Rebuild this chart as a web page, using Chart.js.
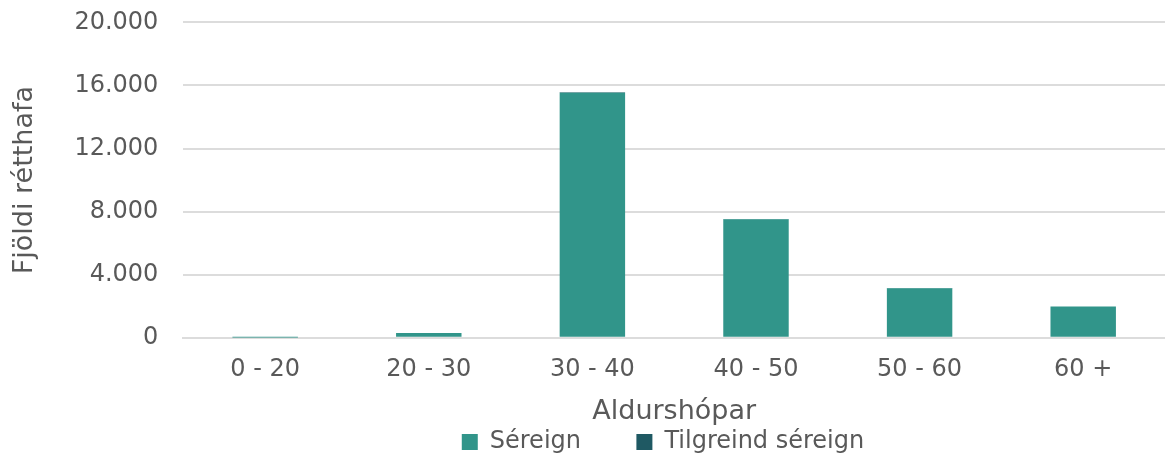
<!DOCTYPE html>
<html>
<head>
    <meta charset="UTF-8">
    <title>Aldurshópar</title>
    <style>
        html, body { margin: 0; padding: 0; background: #fff; }
        #wrap { width: 1165px; height: 459px; }
    </style>
    <script src="https://cdnjs.cloudflare.com/ajax/libs/Chart.js/4.4.1/chart.umd.min.js"></script>
</head>
<body>
    <div id="wrap"><canvas id="chart"></canvas></div>

    <script>
        const categories = ["0 - 20", "20 - 30", "30 - 40", "40 - 50", "50 - 60", "60 +"];
        const sereign = [10, 300, 15540, 7510, 3140, 1980];
        const tilgreindSereign = [0, 5, 30, 20, 25, 10];

        const textColor = "#595959";
        Chart.defaults.font.family = "'DejaVu Sans', Verdana, sans-serif";
        Chart.defaults.color = textColor;

        const fmt = v => v.toLocaleString("de-DE");

        // the legend sits a bit right of the canvas centre, under the plot
        const legendShift = {
            id: "legendShift",
            afterLayout(chart) {
                chart.legend.left += 78;
                chart.legend.right += 78;
            },
        };

        new Chart(document.getElementById("chart").getContext("2d"), {
            type: "bar",
            data: {
                labels: categories,
                datasets: [
                    { label: "Séreign", data: sereign, backgroundColor: "#31958A", barPercentage: 0.8, categoryPercentage: 0.5 },
                    { label: "Tilgreind séreign", data: tilgreindSereign, backgroundColor: "#1F5963", barPercentage: 0.8, categoryPercentage: 0.5 },
                ],
            },
            options: {
                responsive: true,
                maintainAspectRatio: false,
                animation: false,
                layout: { padding: { top: 0, right: 0, left: 5, bottom: -5 } },
                plugins: {
                    tooltip: { enabled: false },
                    legend: {
                        position: "bottom",
                        labels: {
                            font: { size: 24 }, boxWidth: 16, boxHeight: 16, padding: 2, color: textColor,
                            generateLabels(chart) {
                                const items = Chart.defaults.plugins.legend.labels.generateLabels(chart);
                                items[0].text += "       ";
                                return items;
                            },
                        },
                    },
                },
                scales: {
                    x: {
                        stacked: true,
                        grid: { display: false, drawTicks: false },
                        border: { color: "#dcdcdc", width: 2 },
                        ticks: { font: { size: 24 }, padding: 18 },
                        title: { display: true, text: "Aldurshópar", font: { size: 27 }, padding: { top: -7, bottom: 0 } },
                    },
                    y: {
                        stacked: true,
                        min: 0,
                        max: 20000,
                        border: { display: false },
                        grid: { color: "#dcdcdc", lineWidth: 2, drawTicks: true, tickLength: 17, tickColor: "rgba(0,0,0,0)" },
                        ticks: { stepSize: 4000, font: { size: 24 }, padding: 8, callback: v => fmt(v) },
                        title: { display: true, text: "Fjöldi rétthafa", font: { size: 27 }, padding: { top: 4, bottom: 25 } },
                    },
                },
            },
            plugins: [legendShift],
        });
    </script>
</body>
</html>
